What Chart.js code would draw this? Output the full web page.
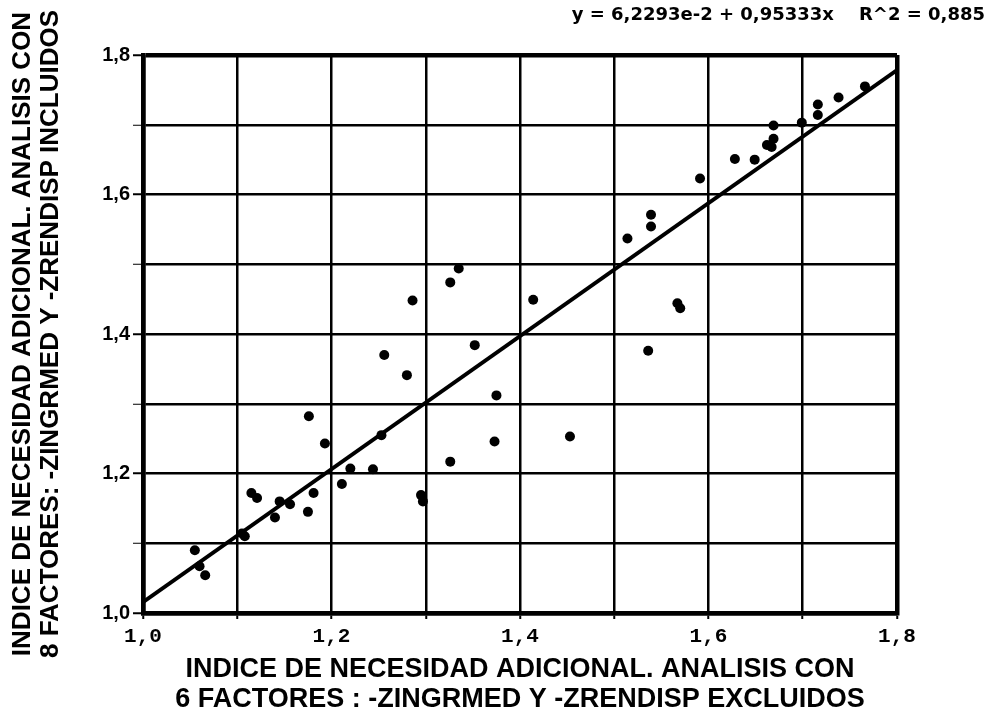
<!DOCTYPE html>
<html>
<head>
<meta charset="utf-8">
<script src="https://cdn.jsdelivr.net/npm/chart.js@4/dist/chart.umd.min.js"></script>
<style>
  html, body { margin: 0; padding: 0; background: #ffffff; }
  #wrap { width: 1004px; height: 719px; position: relative; }
</style>
</head>
<body>
<div id="wrap"><canvas id="c"></canvas></div>
<script>
// Índice de necesidad adicional: 6 factores (x) frente a 8 factores (y)
const sixFactorIndex = [
  1.055, 1.060, 1.066, 1.105, 1.108, 1.115, 1.121, 1.140, 1.145, 1.156,
  1.175, 1.181, 1.176, 1.193, 1.211, 1.220, 1.244, 1.253, 1.256, 1.280,
  1.286, 1.295, 1.297, 1.326, 1.326, 1.335, 1.352, 1.373, 1.375, 1.414,
  1.453, 1.514, 1.536, 1.539, 1.539, 1.567, 1.570, 1.591, 1.628, 1.649,
  1.662, 1.667, 1.669, 1.669, 1.699, 1.716, 1.716, 1.738, 1.766
];
const eightFactorIndex = [
  1.090, 1.067, 1.054, 1.114, 1.110, 1.172, 1.165, 1.137, 1.160, 1.156,
  1.145, 1.172, 1.282, 1.243, 1.185, 1.207, 1.206, 1.255, 1.370, 1.341,
  1.448, 1.169, 1.160, 1.217, 1.474, 1.494, 1.384, 1.246, 1.312, 1.449,
  1.253, 1.537, 1.376, 1.554, 1.571, 1.444, 1.437, 1.623, 1.651, 1.650,
  1.671, 1.668, 1.680, 1.699, 1.703, 1.714, 1.729, 1.739, 1.755
];

// Recta de regresión ajustada
const fitIntercept = 0.062293;
const fitSlope = 0.95333;
const fitR2 = 0.885;

// Escalas
const axisMin = 1.0;
const axisMax = 1.8;
const axisStep = 0.1;

const xTitleLines = [
  'INDICE DE NECESIDAD ADICIONAL. ANALISIS CON',
  '6 FACTORES : -ZINGRMED Y -ZRENDISP EXCLUIDOS'
];
const yTitleLines = [
  'INDICE DE NECESIDAD ADICIONAL. ANALISIS CON',
  '8 FACTORES: -ZINGRMED Y -ZRENDISP INCLUIDOS'
];

const comma = s => s.replace('.', ',');
const equationText =
  'y = ' + comma(fitIntercept.toExponential(4)) +
  ' + ' + comma(fitSlope.toFixed(5)) + 'x' +
  '    R^2 = ' + comma(fitR2.toFixed(3));

const points = sixFactorIndex.map((x, i) => ({ x: x, y: eightFactorIndex[i] }));
const fitLine = [axisMin, axisMax].map(x => ({ x: x, y: fitIntercept + fitSlope * x }));

const tickLabel = (v, i) => (i % 2 === 0 ? comma(Number(v).toFixed(1)) : '');
const isEdge = v => Math.abs(v - axisMax) < 1e-6 || Math.abs(v - axisMin) < 1e-6;

const bg = {
  id: 'bg',
  beforeDraw(chart) {
    const c = chart.ctx;
    c.save();
    c.fillStyle = '#ffffff';
    c.fillRect(0, 0, chart.width, chart.height);
    c.restore();
  }
};

new Chart(document.getElementById('c'), {
  type: 'scatter',
  data: {
    datasets: [
      {
        type: 'scatter',
        data: points,
        pointRadius: 5,
        pointBackgroundColor: '#000000',
        pointBorderWidth: 0,
        order: 0
      },
      {
        type: 'line',
        data: fitLine,
        borderColor: '#000000',
        borderWidth: 3.8,
        pointRadius: 0,
        fill: false,
        order: 1
      }
    ]
  },
  options: {
    responsive: true,
    maintainAspectRatio: false,
    devicePixelRatio: 1,
    animation: false,
    layout: { padding: { left: 0, right: 19, top: 0, bottom: 0 } },
    plugins: {
      legend: { display: false },
      tooltip: { enabled: false },
      title: {
        display: true,
        text: equationText,
        align: 'end',
        color: '#000000',
        font: { family: 'DejaVu Sans', size: 18, weight: 'bold', lineHeight: 1.2 },
        padding: { top: 5, bottom: 28.4 }
      }
    },
    scales: {
      x: {
        type: 'linear',
        min: axisMin,
        max: axisMax,
        afterFit(s) { s.height = 106; },
        ticks: {
          stepSize: axisStep,
          autoSkip: false,
          maxRotation: 0,
          padding: 5,
          color: '#000000',
          font: { family: 'Liberation Mono', size: 21, weight: 'bold' },
          callback: tickLabel
        },
        grid: {
          color: '#000000',
          lineWidth: ctx => (ctx.tick && isEdge(ctx.tick.value) ? 4.5 : 2.5),
          tickLength: 6,
          tickWidth: 2,
          tickColor: '#000000'
        },
        border: { display: true, color: '#000000', width: 4.5 },
        title: {
          display: true,
          text: xTitleLines,
          color: '#000000',
          font: { family: 'Liberation Sans', size: 27, weight: 'bold', lineHeight: 1.111 },
          padding: { top: 0, bottom: 4 }
        }
      },
      y: {
        type: 'linear',
        min: axisMin,
        max: axisMax,
        afterFit(s) { s.width = 143; },
        ticks: {
          stepSize: axisStep,
          autoSkip: false,
          padding: 3,
          color: '#000000',
          font: { family: 'Liberation Sans', size: 20, weight: 'bold' },
          callback: tickLabel
        },
        grid: {
          color: '#000000',
          lineWidth: ctx => (ctx.tick && isEdge(ctx.tick.value) ? 4.5 : 2.5),
          tickLength: 10,
          tickWidth: ctx => (ctx.index % 2 === 0 ? 2 : 1),
          tickColor: '#000000'
        },
        border: { display: true, color: '#000000', width: 4.5 },
        title: {
          display: true,
          text: yTitleLines,
          color: '#000000',
          font: { family: 'Liberation Sans', size: 26, weight: 'bold', lineHeight: 1.08 },
          padding: { top: 9, bottom: 0 }
        }
      },
      y2: {
        type: 'linear',
        position: 'right',
        min: axisMin,
        max: axisMax,
        display: true,
        afterFit(s) { s.width = 88; },
        ticks: { display: false },
        grid: { display: false, drawTicks: false },
        border: { display: false }
      }
    }
  },
  plugins: [bg]
});
</script>
</body>
</html>
